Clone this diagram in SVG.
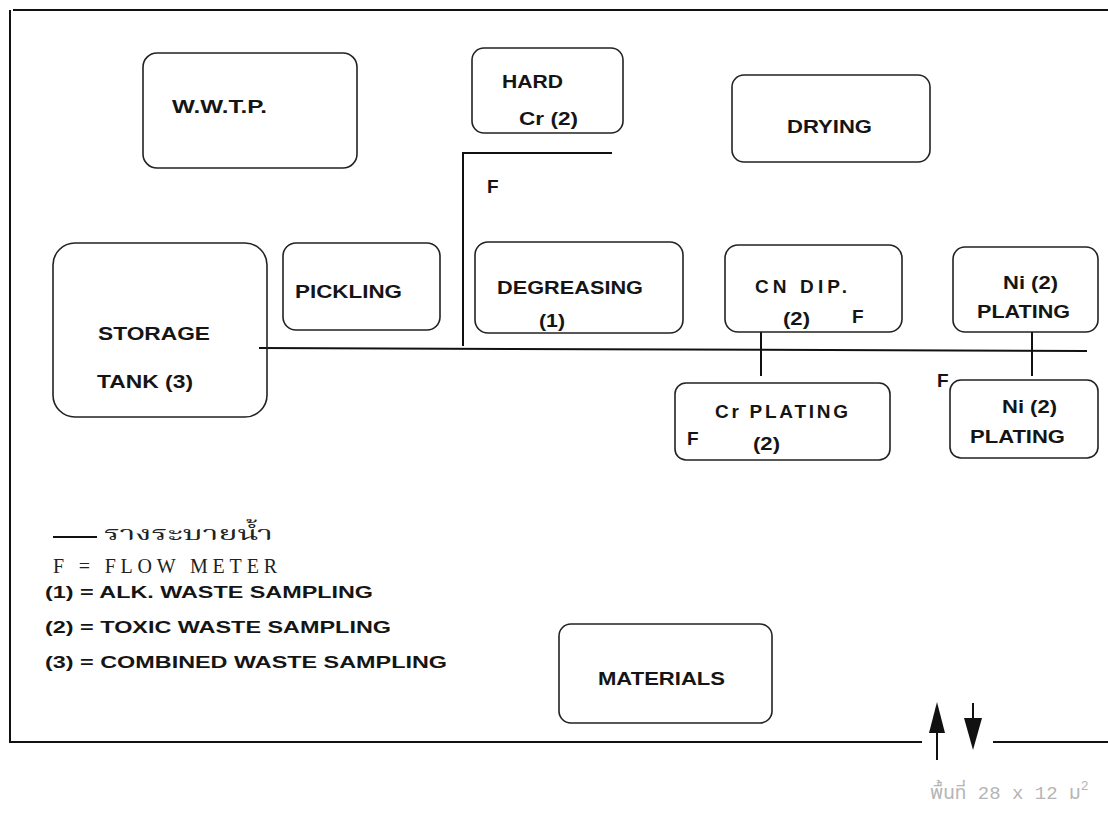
<svg xmlns="http://www.w3.org/2000/svg" width="1108" height="814" viewBox="0 0 1108 814">
<style>
.box{fill:none;stroke:#222;stroke-width:1.6}
.ln{stroke:#111;stroke-width:2;fill:none}
.lb{font-family:"Liberation Sans",Arial,sans-serif;font-weight:bold;font-size:19px;fill:#151515}
.lg{font-family:"Liberation Sans",Arial,sans-serif;font-weight:bold;font-size:17px;fill:#151515}
.tw{font-family:"Liberation Serif","Times New Roman",serif;font-size:20px;fill:#222}
.th{font-family:"Noto Serif Thai","Noto Sans Thai","Tlwg Typo","Garuda","Loma","DejaVu Sans",sans-serif;font-size:20px;fill:#222}
.gr{font-family:"Liberation Mono","Noto Sans Thai","Tlwg Typo","DejaVu Sans",monospace;font-size:19px;fill:#b5b5b5}
</style>
<rect width="1108" height="814" fill="#fff"/>
<g id="frame" class="ln">
<path d="M13 10 H1108"/>
<path d="M10 10 V743"/>
<path d="M10 742 H922"/>
<path d="M993 742 H1108"/>
</g>
<g id="connectors" class="ln">
<path d="M612 153 H463 V346"/>
<path d="M259 348 L1087 351"/>
<path d="M761 332 V376"/>
<path d="M1032 332 V376"/>
</g>
<g id="wwtp"><rect class="box" x="143" y="53" width="214" height="115" rx="14"/><text class="lb" x="172" y="113" textLength="95" lengthAdjust="spacingAndGlyphs">W.W.T.P.</text></g>
<g id="hard-cr"><rect class="box" x="472" y="48" width="151" height="85" rx="12"/><text class="lb" x="502" y="88" textLength="61" lengthAdjust="spacingAndGlyphs">HARD</text><text class="lb" x="519" y="125" textLength="59" lengthAdjust="spacingAndGlyphs">Cr (2)</text></g>
<g id="drying"><rect class="box" x="732" y="75" width="198" height="87" rx="12"/><text class="lb" x="787" y="133" textLength="85" lengthAdjust="spacingAndGlyphs">DRYING</text></g>
<g id="flow-f1"><text class="lb" x="487" y="193">F</text></g>
<g id="storage-tank"><rect class="box" x="53" y="243" width="214" height="174" rx="22"/><text class="lb" x="98" y="340" textLength="112" lengthAdjust="spacingAndGlyphs">STORAGE</text><text class="lb" x="97" y="388" textLength="96" lengthAdjust="spacingAndGlyphs">TANK (3)</text></g>
<g id="pickling"><rect class="box" x="283" y="243" width="157" height="87" rx="13"/><text class="lb" x="295" y="298" textLength="107" lengthAdjust="spacingAndGlyphs">PICKLING</text></g>
<g id="degreasing"><rect class="box" x="475" y="242" width="208" height="91" rx="13"/><text class="lb" x="497" y="294" textLength="146" lengthAdjust="spacingAndGlyphs">DEGREASING</text><text class="lb" x="539" y="327" textLength="26" lengthAdjust="spacingAndGlyphs">(1)</text></g>
<g id="cn-dip"><rect class="box" x="725" y="245" width="177" height="87" rx="13"/><text class="lb" x="755" y="293" textLength="92" lengthAdjust="spacing">CN DIP.</text><text class="lb" x="783" y="325" textLength="27" lengthAdjust="spacingAndGlyphs">(2)</text><text class="lb" x="852" y="323">F</text></g>
<g id="ni-plating-1"><rect class="box" x="953" y="247" width="145" height="85" rx="12"/><text class="lb" x="1003" y="289" textLength="55" lengthAdjust="spacingAndGlyphs">Ni (2)</text><text class="lb" x="977" y="318" textLength="93" lengthAdjust="spacingAndGlyphs">PLATING</text></g>
<g id="cr-plating"><rect class="box" x="675" y="383" width="215" height="77" rx="11"/><text class="lb" x="715" y="418" textLength="133" lengthAdjust="spacing">Cr PLATING</text><text class="lb" x="687" y="445">F</text><text class="lb" x="753" y="450" textLength="27" lengthAdjust="spacingAndGlyphs">(2)</text></g>
<g id="ni-plating-2"><rect class="box" x="950" y="380" width="148" height="78" rx="11"/><text class="lb" x="937" y="387">F</text><text class="lb" x="1002" y="413" textLength="55" lengthAdjust="spacingAndGlyphs">Ni (2)</text><text class="lb" x="970" y="443" textLength="95" lengthAdjust="spacingAndGlyphs">PLATING</text></g>
<g id="materials"><rect class="box" x="559" y="624" width="213" height="99" rx="12"/><text class="lb" x="598" y="685" textLength="127" lengthAdjust="spacingAndGlyphs">MATERIALS</text></g>
<g id="legend">
<path class="ln" d="M53 537 H97"/>
<text class="th" x="104" y="540" textLength="169" lengthAdjust="spacingAndGlyphs">รางระบายน้ำ</text>
<text class="tw" x="53" y="573" textLength="224" lengthAdjust="spacing">F = FLOW METER</text>
<text class="lg" x="45" y="598" textLength="328" lengthAdjust="spacingAndGlyphs">(1) = ALK. WASTE SAMPLING</text>
<text class="lg" x="45" y="633" textLength="346" lengthAdjust="spacingAndGlyphs">(2) = TOXIC WASTE SAMPLING</text>
<text class="lg" x="45" y="668" textLength="402" lengthAdjust="spacingAndGlyphs">(3) = COMBINED WASTE SAMPLING</text>
</g>
<g id="entrance-arrows">
<path class="ln" d="M937 760 V730"/>
<polygon points="937,702 929,733 945,733" fill="#111"/>
<path class="ln" d="M973 703 V720"/>
<polygon points="964,718 982,718 973,750" fill="#111"/>
</g>
<g id="area-note"><text class="gr" x="930" y="799">พื้นที่ 28 x 12 ม<tspan dy="-9" font-size="13">2</tspan></text></g>
</svg>
